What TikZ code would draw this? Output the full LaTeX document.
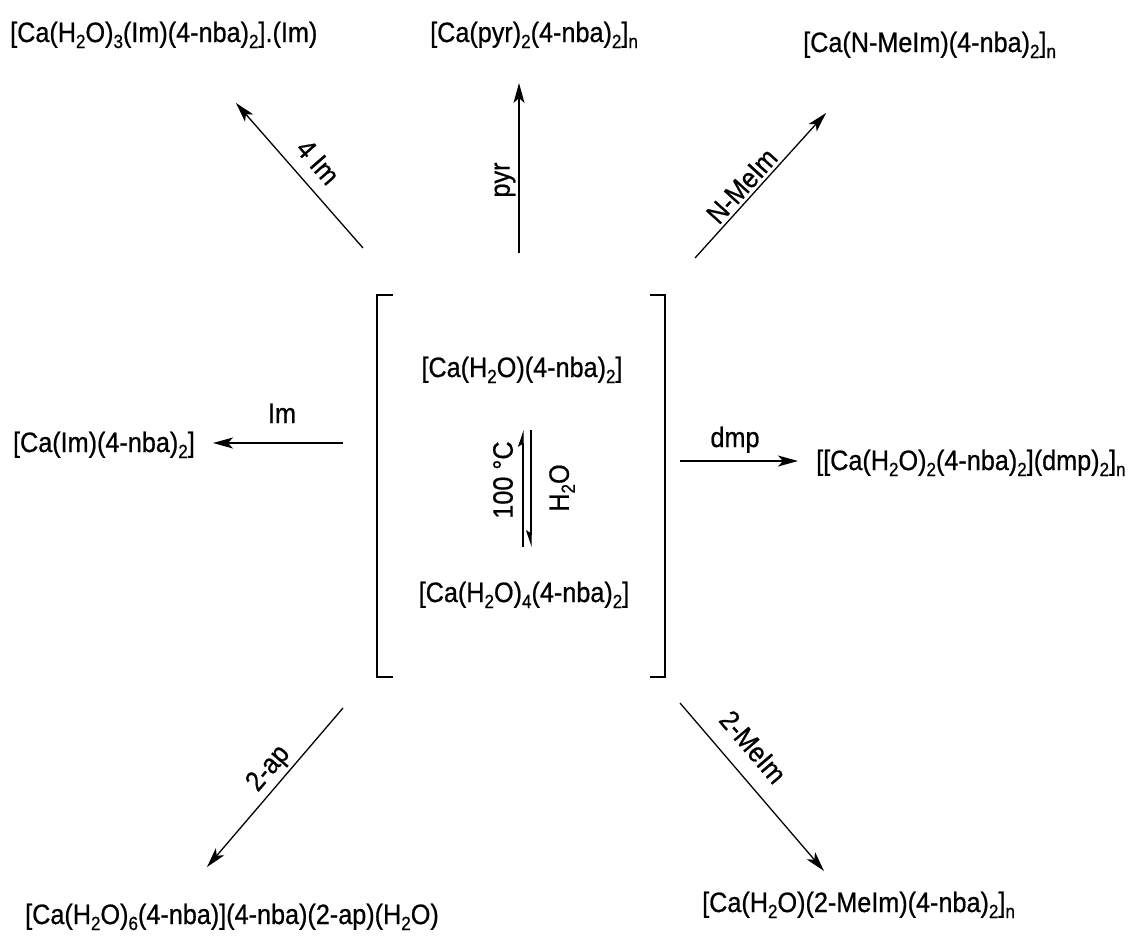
\documentclass[tikz,border=0pt]{standalone}
\usepackage{fontspec}
\setmainfont{Liberation Sans}[FakeStretch=0.9,FakeBold=0.7]
\usetikzlibrary{arrows.meta}
\newcommand{\chsub}[1]{\raisebox{-6pt}{\fontsize{19}{20}\selectfont #1}}

\begin{document}
\begin{tikzpicture}[x=1pt,y=-1pt,
	cmpd/.style={inner sep=0pt,font=\fontsize{28}{32}\selectfont},
	rxn/.style={line width=1.3pt,-{Stealth[length=20pt,width=11pt,inset=5pt]}},
	equp/.style={line width=1.2pt,-{Stealth[left,length=15pt,width=10pt,inset=3pt]}},
	eqdown/.style={line width=1.2pt,-{Stealth[right,length=15pt,width=10pt,inset=3pt]}},
	brk/.style={line width=2.6pt}]
		\useasboundingbox (0,0) rectangle (1135,937);
		% brackets
		\draw[brk] (393,295) -- (377,295) -- (377,677) -- (393,677);
		\draw[brk] (650,295) -- (665,295) -- (665,677) -- (650,677);
		% hydrates in the bracket
		\node[cmpd,anchor=base] (hydA) at (522,377) {[Ca(H\chsub{2}O)(4-nba)\chsub{2}]};
		\node[cmpd,anchor=base] (hydB) at (524,602) {[Ca(H\chsub{2}O)\chsub{4}(4-nba)\chsub{2}]};
		\coordinate (eqLa) at (523,547);
		\coordinate (eqLb) at (523,430);
		\coordinate (eqRa) at (531,430);
		\coordinate (eqRb) at (531,547);
		\draw[equp] (eqLa) -- (eqLb);
		\draw[eqdown] (eqRa) -- (eqRb);
		\node[cmpd,rotate=90] (tHeat) at (503,480) {100 °C};
		\node[cmpd,rotate=90] (tWater) at (562,488) {H\chsub{2}O};
		% products
		\node[cmpd,anchor=base west] (pImFour) at (10,42) {[Ca(H\chsub{2}O)\chsub{3}(Im)(4-nba)\chsub{2}].(Im)};
		\node[cmpd,anchor=base west] (pPyr) at (430,42) {[Ca(pyr)\chsub{2}(4-nba)\chsub{2}]\chsub{n}};
		\node[cmpd,anchor=base west] (pNMe) at (803,52) {[Ca(N-MeIm)(4-nba)\chsub{2}]\chsub{n}};
		\node[cmpd,anchor=base east] (pIm) at (195,452) {[Ca(Im)(4-nba)\chsub{2}]};
		\node[cmpd,anchor=base west] (pDmp) at (816,470) {[[Ca(H\chsub{2}O)\chsub{2}(4-nba)\chsub{2}](dmp)\chsub{2}]\chsub{n}};
		\node[cmpd,anchor=base west] (pAp) at (25,924) {[Ca(H\chsub{2}O)\chsub{6}(4-nba)](4-nba)(2-ap)(H\chsub{2}O)};
		\node[cmpd,anchor=base west] (pMe) at (702,912) {[Ca(H\chsub{2}O)(2-MeIm)(4-nba)\chsub{2}]\chsub{n}};
		% arrow ends
		\coordinate (sImFour) at (363,248);
		\coordinate (eImFour) at (236,103);
		\coordinate (sPyr) at (519,253);
		\coordinate (ePyr) at (519,83);
		\coordinate (sNMe) at (695,258);
		\coordinate (eNMe) at (826,113);
		\coordinate (sIm) at (343,443);
		\coordinate (eIm) at (213,443);
		\coordinate (sDmp) at (680,461);
		\coordinate (eDmp) at (798,461);
		\coordinate (sAp) at (343,708);
		\coordinate (eAp) at (207,867);
		\coordinate (sMe) at (680,703);
		\coordinate (eMe) at (824,871);
		\draw[rxn] (sImFour) -- (eImFour);
		\draw[rxn] (sPyr) -- (ePyr);
		\draw[rxn] (sNMe) -- (eNMe);
		\draw[rxn] (sIm) -- (eIm);
		\draw[rxn] (sDmp) -- (eDmp);
		\draw[rxn] (sAp) -- (eAp);
		\draw[rxn] (sMe) -- (eMe);
		% reagents
		\node[cmpd,rotate=-48.8] (lImFour) at (318,162) {4 Im};
		\node[cmpd,rotate=90] (lPyr) at (505,180) {pyr};
		\node[cmpd,rotate=47.9] (lNMe) at (742,186) {N-MeIm};
		\node[cmpd,anchor=base] (lIm) at (282,423) {Im};
		\node[cmpd,anchor=base] (lDmp) at (735,447) {dmp};
		\node[cmpd,rotate=49.5] (lAp) at (269,769) {2-ap};
		\node[cmpd,rotate=-49.4] (lMe) at (753,747) {2-MeIm};
\end{tikzpicture}
\end{document}
